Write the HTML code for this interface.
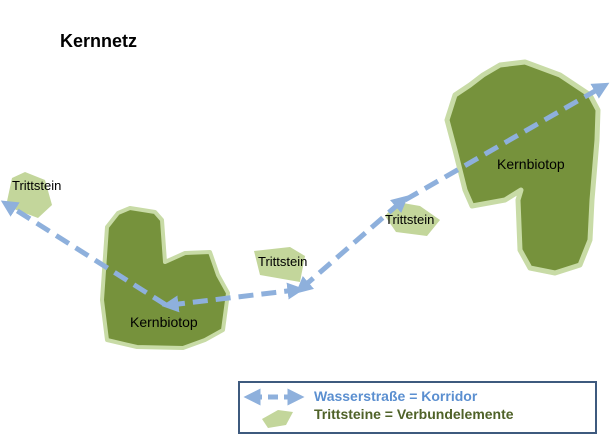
<!DOCTYPE html>
<html><head><meta charset="utf-8"><style>
html,body{margin:0;padding:0;background:#fff;width:610px;height:444px;overflow:hidden}
svg{display:block}
text{font-family:"Liberation Sans",sans-serif}
</style></head><body>
<svg width="610" height="444" viewBox="0 0 610 444">
<defs>
<marker id="ah" markerWidth="3.4" markerHeight="3.4" refX="1.7" refY="1.7" orient="auto" markerUnits="strokeWidth">
<path d="M0,0 L3.4,1.7 L0,3.4 Z" fill="#8eb0dc"/></marker>
<marker id="ahs" markerWidth="3.4" markerHeight="3.4" refX="1.7" refY="1.7" orient="auto-start-reverse" markerUnits="strokeWidth">
<path d="M0,0 L3.4,1.7 L0,3.4 Z" fill="#8eb0dc"/></marker>
</defs>
<text x="60" y="47" font-size="18" font-weight="bold" fill="#000">Kernnetz</text>
<path d="M455,95 L470,85 L483,75 L500,65 L525,62 L560,75 L590,95 L598,110 L597,140 L592,200 L590,240 L580,265 L555,273 L530,268 L520,250 L518,200 L521,190 L505,200 L472,206 L465,190 L455,150 L447,120 Z" fill="#76923c" stroke="#c8dba6" stroke-width="5" stroke-linejoin="round"/>
<path d="M107,227 L118,213 L130,208 L155,212 L162,220 L165,262 L185,253 L210,252 L218,275 L228,293 L223,330 L205,340 L183,348 L137,347 L107,340 L102,300 Z" fill="#76923c" stroke="#c8dba6" stroke-width="4" stroke-linejoin="round"/>
<path d="M12,178 L25,172 L45,180 L52,205 L38,218 L6,206 Z" fill="#c3d69b"/>
<path d="M254,251 L290,247 L305,256 L300,282 L260,275 Z" fill="#c3d69b"/>
<path d="M397,202 L420,206 L440,220 L427,236 L396,232 L385,216 Z" fill="#c3d69b"/>
<g stroke="#8eb0dc" stroke-width="5" stroke-dasharray="15,8" fill="none">
<line x1="166" y1="305" x2="8" y2="205" marker-end="url(#ah)"/>
<line x1="170" y1="305" x2="296" y2="290" marker-start="url(#ahs)" marker-end="url(#ah)"/>
<line x1="302" y1="288" x2="402" y2="201" marker-start="url(#ahs)" marker-end="url(#ah)"/>
<line x1="405" y1="200" x2="602" y2="87" marker-end="url(#ah)"/>
</g>
<text x="12" y="190" font-size="13" fill="#000">Trittstein</text>
<text x="258" y="266" font-size="13" fill="#000">Trittstein</text>
<text x="385" y="224" font-size="13" fill="#000">Trittstein</text>
<text x="130" y="327" font-size="14" fill="#000">Kernbiotop</text>
<text x="497" y="169" font-size="14" fill="#000">Kernbiotop</text>
<rect x="239" y="382" width="357" height="51" fill="#fff" stroke="#3e5a7e" stroke-width="2"/>
<g stroke="#8eb0dc" stroke-width="5" stroke-dasharray="10,6" fill="none">
<line x1="252" y1="397" x2="296" y2="397" marker-start="url(#ahs)" marker-end="url(#ah)"/>
</g>
<path d="M262,419 L278,410 L293,412 L286,425 L268,428 Z" fill="#c3d69b"/>
<text x="314" y="401" font-size="14" font-weight="bold" fill="#5b8fd0">Wasserstraße = Korridor</text>
<text x="314" y="419" font-size="14" font-weight="bold" fill="#4f6228">Trittsteine = Verbundelemente</text>
</svg>
</body></html>
